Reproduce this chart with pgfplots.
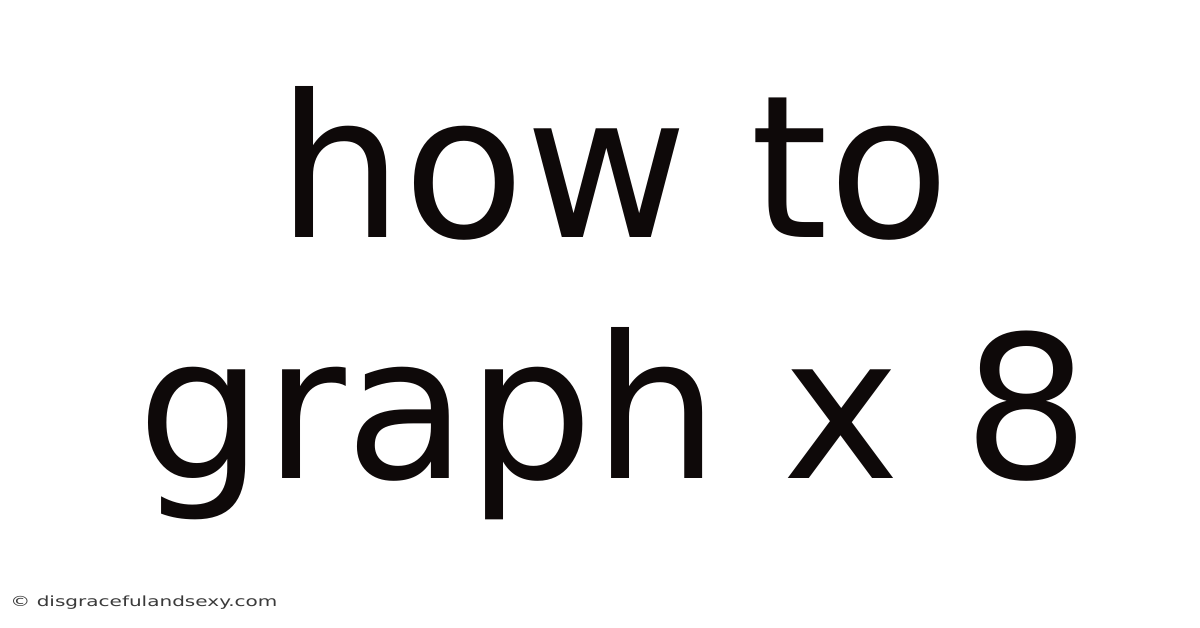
\documentclass[border=0pt]{standalone}
\usepackage{fontspec}
\setmainfont{DejaVu Sans}
\usepackage{pgfplots}
\pgfplotsset{compat=1.18}
\definecolor{ink}{HTML}{0E0909}
\definecolor{mark}{HTML}{3A3A3A}
\begin{document}
\begin{tikzpicture}
\useasboundingbox (0,0) rectangle (600bp,314bp);
\begin{axis}[
    width=600bp, height=314bp,
    scale only axis,
    hide axis,
    clip=false,
    xmin=0, xmax=1200,
    ymin=0, ymax=628,
]
\addplot[draw=none] coordinates {(0,0)(1200,628)};
\node[anchor=base, inner sep=0, text=ink, font=\fontsize{99.4bp}{120bp}\selectfont]
    at (axis cs:614,390) {how to};
\node[anchor=base, inner sep=0, text=ink, font=\fontsize{99.4bp}{120bp}\selectfont]
    at (axis cs:614,149) {graph x 8};
\node[anchor=base west, inner sep=0, text=mark, font=\fontsize{7bp}{8bp}\selectfont]
    at (axis cs:10,22) {\scalebox{1.43}[1]{© disgracefulandsexy.com}};
\end{axis}
\end{tikzpicture}
\end{document}
